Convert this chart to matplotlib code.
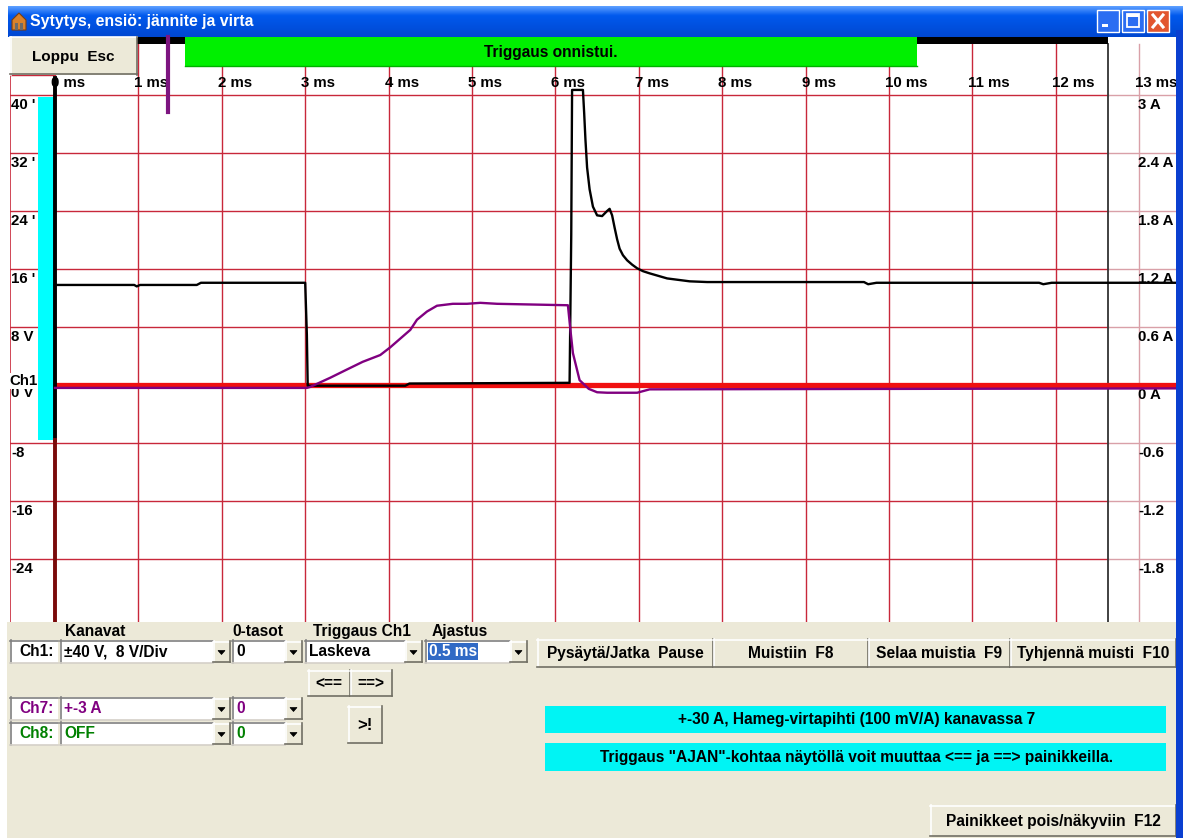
import numpy as np
import matplotlib
matplotlib.use("Agg")
import matplotlib.pyplot as plt
from matplotlib.patches import Rectangle, Polygon

# ---------------- data ----------------
time_ticks_ms = list(range(0, 14))
time_tick_labels = [f"{t} ms" for t in time_ticks_ms]

volt_grid = [40, 32, 24, 16, 8, -8, -16, -24]
volt_labels = ["40 '", "32 '", "24 '", "16 '", "8 V", "-8", "-16", "-24"]

amp_ticks = [3, 2.4, 1.8, 1.2, 0.6, 0, -0.6, -1.2, -1.8]
amp_labels = ["3 A", "2.4 A", "1.8 A", "1.2 A", "0.6 A", "0 A", "-0.6", "-1.2", "-1.8"]

# Ch1 primary voltage (V) vs time (ms)
v_time = [0.0, 0.95, 0.98, 1.02, 1.70, 1.75, 3.00, 3.02, 3.03, 3.04, 4.20, 4.25,
          6.17, 6.19, 6.20, 6.33, 6.345, 6.36, 6.38, 6.41, 6.45, 6.50, 6.56, 6.62,
          6.65, 6.68, 6.71, 6.74, 6.77, 6.81, 6.86, 6.92, 6.98, 7.05, 7.13, 7.34,
          7.61, 7.82, 8.22, 9.70, 9.75, 9.85, 11.80, 11.85, 11.95, 13.45]
v_vals = [13.8, 13.8, 13.6, 13.8, 13.8, 14.1, 14.1, 6.9, -0.1, -0.1, -0.1, 0.2,
          0.3, 20.7, 40.7, 40.7, 37.5, 33.9, 30.0, 27.0, 24.6, 23.4, 23.3, 24.0,
          24.3, 23.4, 21.7, 20.1, 18.8, 17.9, 17.2, 16.6, 16.1, 15.7, 15.4, 14.7,
          14.3, 14.2, 14.2, 14.2, 13.9, 14.1, 14.1, 13.9, 14.1, 14.1]

# Ch7 primary current (A) vs time (ms)
i_time = [0.0, 3.02, 3.06, 3.30, 3.50, 3.69, 3.90, 4.02, 4.26, 4.34, 4.46, 4.58,
          4.77, 4.94, 5.10, 5.30, 6.15, 6.18, 6.21, 6.29, 6.40, 6.50, 6.62, 6.98,
          7.13, 13.45]
i_vals = [-0.03, -0.03, -0.02, 0.075, 0.16, 0.24, 0.31, 0.39, 0.57, 0.675, 0.76,
          0.82, 0.84, 0.84, 0.85, 0.84, 0.825, 0.57, 0.33, 0.05, -0.04, -0.075,
          -0.08, -0.08, -0.045, -0.035]

# ---------------- layout constants (pixels) ----------------
W, H = 1189, 838
X0_PX, PX_PER_MS = 55.0, 83.4      # 0 ms position, pixels per ms
Y0_PX, PX_PER_V = 385.0, 58.0 / 8  # 0 V position, pixels per volt
AX_L, AX_R, AX_T, AX_B = 10, 1176, 37, 622
V_PER_A = 40.0 / 3.0

FAM = ["Liberation Sans Narrow", "Liberation Sans", "DejaVu Sans"]
BEIGE = "#ECE9D8"
GRID = "#C8283A"
FS = 11.2      # panel font size
PFS = 10.8     # plot label font size


def t_of(px):
    return (px - X0_PX) / PX_PER_MS


def v_of(py):
    return (Y0_PX - py) / PX_PER_V


fig = plt.figure(figsize=(W / 100, H / 100), dpi=100)
fig.patch.set_facecolor("white")

bg = fig.add_axes([0, 0, 1, 1])
bg.set_xlim(0, W)
bg.set_ylim(H, 0)
bg.axis("off")
bg.set_zorder(0)

ov = fig.add_axes([0, 0, 1, 1])
ov.set_xlim(0, W)
ov.set_ylim(H, 0)
ov.axis("off")
ov.patch.set_alpha(0)
ov.set_zorder(5)


def rect(a, x0, y0, x1, y1, fc, ec="none", lw=0, z=1):
    a.add_patch(Rectangle((x0, y0), x1 - x0, y1 - y0, facecolor=fc,
                          edgecolor=ec, linewidth=lw, zorder=z))


def txt(a, x, y, s, size=FS, color="black", ha="left", weight="bold", z=10, **kw):
    a.text(x, y, s, fontsize=size, color=color, ha=ha, va="center",
           fontweight=weight, family=FAM, zorder=z, **kw)


def raised(a, x0, y0, x1, y1, label=None, size=FS, z=6):
    rect(a, x0, y0, x1, y1, BEIGE, z=z)
    a.plot([x0, x1], [y0 + 0.5, y0 + 0.5], color="white", lw=1.2, zorder=z + 0.1)
    a.plot([x0 + 0.5, x0 + 0.5], [y0, y1], color="white", lw=1.2, zorder=z + 0.1)
    a.plot([x0, x1], [y1 - 0.5, y1 - 0.5], color="#716F64", lw=1.2, zorder=z + 0.1)
    a.plot([x1 - 0.5, x1 - 0.5], [y0, y1], color="#716F64", lw=1.2, zorder=z + 0.1)
    if label:
        txt(a, (x0 + x1) / 2, (y0 + y1) / 2 + 0.5, label, size=size, ha="center", z=z + 1)


def sunken(a, x0, y0, x1, y1, z=6):
    rect(a, x0, y0, x1, y1, "white", z=z)
    a.plot([x0, x1], [y0 + 0.5, y0 + 0.5], color="#808080", lw=1.2, zorder=z + 0.1)
    a.plot([x0 + 0.5, x0 + 0.5], [y0, y1], color="#808080", lw=1.2, zorder=z + 0.1)
    a.plot([x0, x1], [y1 - 0.5, y1 - 0.5], color="#D4D0C8", lw=1.2, zorder=z + 0.1)


def arrow_btn(a, x0, y0, x1, y1, z=7):
    raised(a, x0, y0, x1, y1, z=z)
    cx, cy = (x0 + x1) / 2, (y0 + y1) / 2 + 1
    a.add_patch(Polygon([[cx - 3.5, cy - 2], [cx + 3.5, cy - 2], [cx, cy + 2]],
                        closed=True, facecolor="black", edgecolor="black",
                        lw=0.5, zorder=z + 1))


def combo(a, x0, y0, x1, y1, label, color="black", aw=17, hi=False):
    sunken(a, x0, y0, x1, y1)
    if hi:
        rect(a, x0 + 3, y0 + 3, x0 + 53, y1 - 3, "#316AC5", z=7)
        txt(a, x0 + 4, (y0 + y1) / 2, label, color="white", z=8)
    else:
        txt(a, x0 + 4, (y0 + y1) / 2, label, color=color, z=8)
    arrow_btn(a, x1, y0 + 1, x1 + aw, y1 - 1)


# ---------------- window chrome ----------------
rect(bg, 7, AX_B, 1176, H, BEIGE)
grad_top = np.array([0.36, 0.62, 1.0])
grad_mid = np.array([0.0, 0.35, 0.93])
grad_bot = np.array([0.0, 0.28, 0.82])
n = 30
g = np.zeros((n, 1, 3))
for k in range(n):
    f = k / (n - 1)
    if f < 0.3:
        g[k, 0] = grad_top + (grad_mid - grad_top) * (f / 0.3)
    else:
        g[k, 0] = grad_mid + (grad_bot - grad_mid) * ((f - 0.3) / 0.7)
bg.imshow(g, extent=[8, 1183, 37, 6], aspect="auto", zorder=1, interpolation="bilinear")
bg.set_xlim(0, W)
bg.set_ylim(H, 0)
rect(ov, 1176, 30, 1183, H, "#0A3FD0", z=20)
ov.add_patch(Polygon([[12, 30], [12, 20], [19, 13], [26, 20], [26, 30]], closed=True,
                     facecolor="#D9822B", edgecolor="#7A3D10", lw=0.8, zorder=21))
rect(ov, 15, 23, 18, 30, "#6B6B6B", z=22)
rect(ov, 20, 23, 23, 30, "#6B6B6B", z=22)
ov.text(30, 21.5, "Sytytys, ensiö: jännite ja virta", fontsize=11.4, color="white",
        fontweight="bold", family=["Liberation Sans", "DejaVu Sans"], va="center",
        ha="left", zorder=21)
for bx, kind in [(1097, "min"), (1122, "max"), (1147, "close")]:
    fc = "#E2562F" if kind == "close" else "#2B6DF2"
    ov.add_patch(Rectangle((bx, 10), 22, 22, facecolor=fc, edgecolor="white",
                           lw=1.0, zorder=21))
    if kind == "min":
        rect(ov, bx + 5, 24, bx + 11, 27, "white", z=22)
    elif kind == "max":
        ov.add_patch(Rectangle((bx + 5, 14), 12, 13, facecolor="none",
                               edgecolor="white", lw=1.3, zorder=22))
        rect(ov, bx + 5, 14, bx + 17, 17, "white", z=22)
    else:
        ov.plot([bx + 6, bx + 16], [15, 27], color="white", lw=2.2, zorder=22)
        ov.plot([bx + 16, bx + 6], [15, 27], color="white", lw=2.2, zorder=22)

# ---------------- oscilloscope plot ----------------
ax = fig.add_axes([AX_L / W, 1 - AX_B / H, (AX_R - AX_L) / W, (AX_B - AX_T) / H])
ax.set_zorder(2)
ax.set_xlim(t_of(AX_L), t_of(AX_R))
ax.set_ylim(v_of(AX_B), v_of(AX_T))
ax.set_facecolor("white")
for s in ax.spines.values():
    s.set_visible(False)
ax.set_xticks([])
ax.set_yticks([])

for t in time_ticks_ms:
    if t == 0:
        continue
    col = GRID if t < 13 else "#D9A0A8"
    ax.plot([t, t], [v_of(AX_B), v_of(44)], color=col, lw=1.0, zorder=1)
for v in volt_grid:
    ax.plot([t_of(AX_L), t_of(1108)], [v, v], color=GRID, lw=1.0, zorder=1)
    ax.plot([t_of(1108), t_of(AX_R)], [v, v], color="#D9A0A8", lw=1.0, zorder=1)
ax.plot([t_of(10.5), t_of(10.5)], [v_of(AX_B), v_of(75)], color=GRID, lw=1.2, zorder=1)
ax.plot([t_of(10), t_of(55)], [v_of(75), v_of(75)], color=GRID, lw=1.0, zorder=1)
ax.plot([t_of(1108), t_of(1108)], [v_of(AX_B), v_of(44)], color="#333333", lw=1.3, zorder=1)

ax.add_patch(Rectangle((t_of(38), v_of(440)), t_of(54) - t_of(38), v_of(97) - v_of(440),
                       facecolor="#00FFFF", edgecolor="none", zorder=2))
ax.plot([0, 0], [v_of(440), v_of(78)], color="black", lw=2.8, zorder=4.6)
ax.plot([0, 0], [v_of(AX_B), v_of(440)], color="#7A0A0A", lw=2.8, zorder=4.6)

ax.plot([0, t_of(AX_R)], [0, 0], color="#F01010", lw=3.8, zorder=3, solid_capstyle="butt")

for t, lab in zip(time_ticks_ms, time_tick_labels):
    ax.text(t - 4 / PX_PER_MS, v_of(83), lab, fontsize=PFS, fontweight="bold",
            family=FAM, ha="left", va="center", zorder=4, clip_on=True)
for v, lab in zip(volt_grid, volt_labels):
    ax.text(t_of(11), v - 10 / PX_PER_V, lab, fontsize=PFS, fontweight="bold",
            family=FAM, ha="left", va="center", zorder=4)
ax.text(t_of(11), v_of(393), "0 V", fontsize=PFS, fontweight="bold", family=FAM,
        ha="left", va="center", zorder=4)
ax.text(t_of(9), v_of(381), "Ch1", fontsize=PFS, fontweight="bold", family=FAM,
        ha="left", va="center", zorder=4.5,
        bbox=dict(boxstyle="square,pad=0.05", facecolor="white", edgecolor="none"))

ax.plot(v_time, v_vals, color="black", lw=1.7, zorder=5, solid_joinstyle="round")

# current axis: 3 A <-> 40 V
ax2 = ax.twinx()
ax2.set_ylim(v_of(AX_B) / V_PER_A, v_of(AX_T) / V_PER_A)
ax2.set_xlim(ax.get_xlim())
for s in ax2.spines.values():
    s.set_visible(False)
ax2.set_yticks([])
ax2.patch.set_alpha(0)
ax2.plot(i_time, i_vals, color="#800080", lw=1.7, zorder=5)
for a_v, lab in zip(amp_ticks, amp_labels):
    ax2.text(t_of(1138), a_v - 10 / PX_PER_V / V_PER_A, lab, fontsize=PFS,
             fontweight="bold", family=FAM, ha="left", va="center", zorder=2,
             clip_on=True)

# ---------------- overlay: top strip ----------------
raised(ov, 10, 37, 137, 75, "Loppu  Esc", size=11)
rect(ov, 137, 37, 185, 44, "black", z=6)
rect(ov, 917, 37, 1108, 44, "black", z=6)
rect(ov, 185, 37, 917, 66, "#00F000", z=6)
ov.plot([185, 917], [66, 66], color="#00B000", lw=1, zorder=6.5)
txt(ov, 551, 52, "Triggaus onnistui.", size=11.2, ha="center")
ov.plot([168, 168], [37, 112], color="#7D1580", lw=3.0, zorder=7)

# ---------------- bottom control panel ----------------
txt(ov, 65, 631, "Kanavat")
txt(ov, 232, 631, "0-tasot")
txt(ov, 313, 631, "Triggaus Ch1")
txt(ov, 432, 631, "Ajastus")

sunken(ov, 10, 640, 58, 663)
txt(ov, 19, 651.5, "Ch1:")
combo(ov, 60, 640, 213, 663, "±40 V,  8 V/Div")
combo(ov, 232, 640, 285, 663, "0")
combo(ov, 305, 640, 405, 663, "Laskeva")
combo(ov, 425, 640, 510, 663, "0.5 ms", hi=True)

raised(ov, 537, 639, 713, 667, "Pysäytä/Jatka  Pause")
raised(ov, 713, 639, 868, 667, "Muistiin  F8")
raised(ov, 868, 639, 1010, 667, "Selaa muistia  F9")
raised(ov, 1010, 639, 1176, 667, "Tyhjennä muisti  F10")

raised(ov, 308, 670, 350, 696, "<==")
raised(ov, 350, 670, 392, 696, "==>")

sunken(ov, 10, 697, 58, 720)
txt(ov, 19, 708.5, "Ch7:", color="#800080")
combo(ov, 60, 697, 213, 720, "+-3 A", color="#800080")
combo(ov, 232, 697, 285, 720, "0", color="#800080")

sunken(ov, 10, 722, 58, 745)
txt(ov, 19, 733.5, "Ch8:", color="#008000")
combo(ov, 60, 722, 213, 745, "OFF", color="#008000")
combo(ov, 232, 722, 285, 745, "0", color="#008000")

raised(ov, 348, 706, 382, 743, ">!", size=12)

rect(ov, 545, 706, 1166, 733, "#00F4F4", z=6)
txt(ov, 857, 719.5, "+-30 A, Hameg-virtapihti (100 mV/A) kanavassa 7", ha="center")
rect(ov, 545, 743, 1166, 771, "#00F4F4", z=6)
txt(ov, 857, 757, 'Triggaus "AJAN"-kohtaa näytöllä voit muuttaa <== ja ==> painikkeilla.',
    ha="center")

raised(ov, 930, 805, 1176, 836, "Painikkeet pois/näkyviin  F12")

fig.savefig("out.png", dpi=100, facecolor=fig.get_facecolor())
